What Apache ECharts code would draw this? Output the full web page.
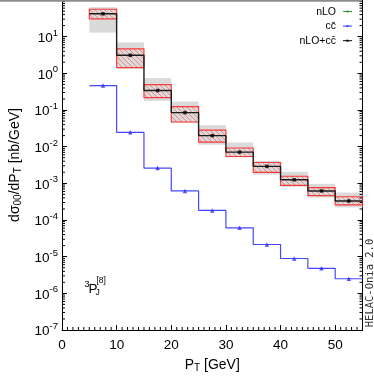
<!DOCTYPE html>
<html><head><meta charset="utf-8">
<script src="https://cdn.jsdelivr.net/npm/echarts@6/dist/echarts.min.js"></script>
<style>html,body{margin:0;padding:0;background:#fff}#c{width:374px;height:378px}</style>
</head><body><div id="c"></div>
<script>
// ---- data ----
const binLow = [5, 10, 15, 20, 25, 30, 35, 40, 45, 50];
const binWidth = 5;
const totalVals = [42, 3.1, 0.34, 0.085, 0.020, 0.0071, 0.0029, 0.00125, 0.00062, 0.00033];
const redHi  = [56, 4.65, 0.49, 0.123, 0.0283, 0.0092, 0.0037, 0.00156, 0.00076, 0.00043];
const redLo  = [30.5, 1.43, 0.218, 0.047, 0.0133, 0.0054, 0.0020, 0.00088, 0.00046, 0.00026];
const grayHi = [63.6, 7.0, 0.74, 0.17, 0.0385, 0.013, 0.0041, 0.00207, 0.00097, 0.00056];
const grayLo = [12.9, 1.34, 0.178, 0.045, 0.0113, 0.0051, 0.00173, 0.0008, 0.00041, 0.00022];
const ccbarVals = [0.465, 0.0246, 0.0026, 6.2e-4, 1.83e-4, 6.1e-5, 2.15e-5, 8.9e-6, 4.8e-6, 2.5e-6];
const nloVals = []; // hidden beneath nLO+cc̄ in the reference
const xTickLabels = ['0', '10', '20', '30', '40', '50'];
const yExponents = [-7, -6, -5, -4, -3, -2, -1, 0, 1];
const legendNames = ['nLO', 'cc\u0304', 'nLO+cc\u0304'];
const legendColors = ['#2e9a2e', '#3a3aff', '#000000'];

const X_MIN = 0, X_MAX = 55, Y_MIN = 1e-7, Y_MAX = 100;

// ---- derived structures ----
function stepPts(vals) {
  const pts = [];
  vals.forEach((v, i) => { pts.push([binLow[i], v]); pts.push([binLow[i] + binWidth, v]); });
  return pts;
}
const centers = (vals) => vals.map((v, i) => [binLow[i] + binWidth / 2, v]);
const bandData = (lo, hi) => lo.map((l, i) => [binLow[i], l, hi[i]]);

const yMinorVals = [];
for (let e = -7; e <= 1; e++) for (let m = 2; m <= 9; m++) yMinorVals.push([X_MIN, m * Math.pow(10, e)]);
const xMinorVals = [];
for (let x = 1; x < X_MAX; x++) if (x % 10 !== 0) xMinorVals.push([x, Y_MIN]);

function hatchCanvas() {
  const c = document.createElement('canvas');
  c.width = 5; c.height = 5;
  const g = c.getContext('2d');
  g.strokeStyle = 'rgba(255,70,70,0.75)';
  g.lineWidth = 0.75;
  g.beginPath();
  g.moveTo(0, 0); g.lineTo(5, 5);
  g.moveTo(-1, 4); g.lineTo(1, 6);
  g.moveTo(4, -1); g.lineTo(6, 1);
  g.stroke();
  return c;
}
const hatch = hatchCanvas();

function bandRender(kind) {
  return function (params, api) {
    const x0 = api.value(0), lo = api.value(1), hi = api.value(2);
    const p0 = api.coord([x0, hi]);
    const p1 = api.coord([x0 + binWidth, lo]);
    const shape = { x: p0[0], y: p0[1], width: p1[0] - p0[0], height: p1[1] - p0[1] };
    if (kind === 'gray') {
      return { type: 'rect', shape, style: { fill: '#dadada' } };
    }
    return {
      type: 'group', children: [
        { type: 'rect', shape, style: { fill: { image: hatch, repeat: 'repeat' } } },
        { type: 'rect', shape, style: { fill: 'none', stroke: 'rgba(255,30,30,0.85)', lineWidth: 1.2 } }
      ]
    };
  };
}

const chart = echarts.init(document.getElementById('c'), null, { renderer: 'canvas' });
const FONT = 'Liberation Sans, Arial, sans-serif';

const option = {
  animation: false,
  backgroundColor: '#fff',
  grid: { left: 57, right: 11.5, top: -4.2, bottom: 43, containLabel: false },
  xAxis: {
    type: 'value', min: X_MIN, max: X_MAX, interval: 10,
    axisLine: { show: true, lineStyle: { color: '#000', width: 1 } },
    axisTick: { show: true, inside: true, length: 5, lineStyle: { color: '#000' } },
    splitLine: { show: false },
    axisLabel: {
      margin: 8, color: '#000', fontFamily: FONT, fontSize: 13.5,
      formatter: (v) => (xTickLabels.indexOf(String(v)) >= 0 ? String(v) : '')
    },
    name: 'P{s|T} [GeV]', nameLocation: 'middle', nameGap: 27,
    nameTextStyle: { color: '#000', fontFamily: FONT, fontSize: 14,
      rich: { s: { fontSize: 10, fontFamily: FONT, padding: [6, 0, 0, 0] } } }
  },
  yAxis: [{
    type: 'log', logBase: 10, min: Y_MIN, max: Y_MAX, interval: 1,
    axisLine: { show: true, lineStyle: { color: '#000', width: 1 } },
    axisTick: { show: true, inside: true, length: 5, lineStyle: { color: '#000' } },
    splitLine: { show: false },
    axisLabel: {
      margin: 4, color: '#000', fontFamily: FONT,
      formatter: (v) => {
        const e = Math.round(Math.log10(v));
        if (yExponents.indexOf(e) < 0) return '';
        return '{b|10}{s|' + e + '}';
      },
      rich: {
        b: { fontSize: 13.5, fontFamily: FONT, color: '#000', padding: [3, 0, 0, 0] },
        s: { fontSize: 9.5, fontFamily: FONT, color: '#000', padding: [0, 0, 7, 0] }
      }
    },
    name: 'd\u03c3{s|00}/dP{s|T} [nb/GeV]', nameLocation: 'middle', nameGap: 39,
    nameTextStyle: { color: '#000', fontFamily: FONT, fontSize: 14,
      rich: { s: { fontSize: 10, fontFamily: FONT, padding: [6, 0, 0, 0] } } }
  }, {
    type: 'log', logBase: 10, min: Y_MIN, max: Y_MAX, interval: 1, position: 'right',
    axisLine: { show: true, lineStyle: { color: '#000', width: 1 } },
    axisTick: { show: true, inside: true, length: 5, lineStyle: { color: '#000' } },
    axisLabel: { show: false }, splitLine: { show: false }
  }],
  series: [
    { type: 'custom', name: 'grayband', renderItem: bandRender('gray'), data: bandData(grayLo, grayHi),
      encode: { x: 0, y: [1, 2] }, z: 1, silent: true },
    { type: 'custom', name: 'redband', renderItem: bandRender('red'), data: bandData(redLo, redHi),
      encode: { x: 0, y: [1, 2] }, z: 2, silent: true },
    { type: 'line', name: legendNames[0], data: nloVals, showSymbol: false,
      lineStyle: { color: legendColors[0], width: 1.2 }, z: 3 },
    { type: 'line', name: legendNames[2], data: stepPts(totalVals), showSymbol: false,
      lineStyle: { color: '#1c1c1c', width: 1.4 }, z: 4 },
    { type: 'line', name: legendNames[1], data: stepPts(ccbarVals), showSymbol: false,
      lineStyle: { color: 'rgba(50,50,255,0.9)', width: 1.2 }, z: 4 },
    { type: 'scatter', data: centers(totalVals), symbol: 'rect', symbolSize: 3.5,
      itemStyle: { color: '#000' }, z: 5 },
    { type: 'scatter', data: centers(ccbarVals), symbol: 'triangle', symbolSize: 4.5,
      itemStyle: { color: '#2a2aff' }, z: 5 },
    { type: 'custom', name: 'yminor', data: yMinorVals, encode: { x: 0, y: 1 }, z: 6, silent: true,
      renderItem: (params, api) => {
        const a = api.coord([X_MIN, api.value(1)]);
        const b = api.coord([X_MAX, api.value(1)]);
        const st = { stroke: '#000', lineWidth: 1 };
        return { type: 'group', children: [
          { type: 'line', shape: { x1: a[0], y1: a[1], x2: a[0] + 3, y2: a[1] }, style: st },
          { type: 'line', shape: { x1: b[0], y1: b[1], x2: b[0] - 3, y2: b[1] }, style: st }
        ] };
      } },
    { type: 'custom', name: 'xminor', data: xMinorVals, encode: { x: 0, y: 1 }, z: 6, silent: true,
      renderItem: (params, api) => {
        const a = api.coord([api.value(0), Y_MIN]);
        return { type: 'line', shape: { x1: a[0], y1: a[1], x2: a[0], y2: a[1] - 3 },
          style: { stroke: '#000', lineWidth: 1 } };
      } }
  ],
  graphic: [
    { type: 'rect', shape: { x: 0, y: 0, width: 362, height: 1.8 }, style: { fill: '#8c8c8c' }, z: 100 },
    // legend
    ...legendNames.map((n, i) => ({
      type: 'group', children: [
        { type: 'text', x: 336, y: 11.7 + i * 14.8, style: { text: n, align: 'right', verticalAlign: 'middle',
          font: '10.5px ' + FONT, fill: '#000' } },
        { type: 'line', shape: { x1: 343, y1: 11.5 + i * 14.6, x2: 352, y2: 11.5 + i * 14.6 },
          style: { stroke: legendColors[i], lineWidth: 1 } },
        { type: 'rect', shape: { x: 346.5, y: 10.5 + i * 14.6, width: 2, height: 2 },
          style: { fill: legendColors[i] } }
      ]
    })),
    // state label
    { type: 'text', x: 84.5, y: 280.5, style: { text: '3', font: '9px ' + FONT, fill: '#000' } },
    { type: 'text', x: 88.5, y: 282.5, style: { text: 'P', font: '13.5px ' + FONT, fill: '#000' } },
    { type: 'text', x: 96.5, y: 276.5, style: { text: '[8]', font: '8.5px ' + FONT, fill: '#000' } },
    { type: 'text', x: 95.5, y: 288.5, style: { text: 'J', font: '8.5px ' + FONT, fill: '#000' } },
    // program tag
    { type: 'text', x: 370, y: 283, rotation: Math.PI / 2,
      style: { text: 'HELAC-Onia 2.0', font: '10.5px DejaVu Sans Mono, monospace', fill: '#333',
        align: 'center', verticalAlign: 'middle' } }
  ]
};
chart.setOption(option);
</script>
</body></html>
